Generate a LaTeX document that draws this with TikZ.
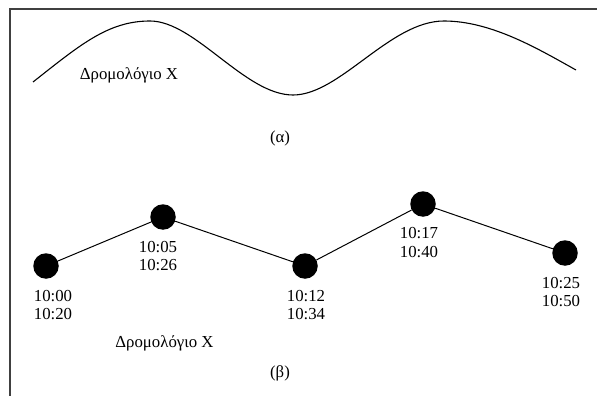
\documentclass[tikz,border=0pt]{standalone}
\usepackage{fontspec}
\setmainfont{Liberation Serif}
\begin{document}
\begin{tikzpicture}[x=1pt,y=-1pt,
  stop/.style={circle,fill=black,minimum size=25.5pt,inner sep=0pt},
  lbl/.style={align=center,font=\fontsize{16.8}{18.6}\selectfont,inner sep=0pt},
  conn/.style={line width=1pt},
  wave/.style={line width=1.1pt},
  frame/.style={draw=black!75,line width=1.2pt}]
\useasboundingbox (0,0) rectangle (597,396);
% frame
\coordinate (ftr) at (597,9);
\coordinate (ftl) at (10,9);
\coordinate (fbl) at (10,396);
\draw[frame] (ftr) -- (ftl) -- (fbl);
% (a) wave
\coordinate (w0) at (33,82);
\coordinate (w1) at (150,21);
\coordinate (w2) at (293,95);
\coordinate (w3) at (444,21);
\coordinate (w4) at (576,70);
\draw[wave] (w0) .. controls (80,45) and (108,21) .. (w1)
  .. controls (195,21) and (245,95) .. (w2)
  .. controls (340,95) and (390,21) .. (w3)
  .. controls (492,21) and (540,50) .. (w4);
\node[lbl] (ta) at (129,75) {Δρομολόγιο X};
\node[lbl] (alpha) at (280,138) {(α)};
% (b) stops
\node[stop] (s1) at (46,266) {};
\node[stop] (s2) at (163,217) {};
\node[stop] (s3) at (305,266) {};
\node[stop] (s4) at (423,204) {};
\node[stop] (s5) at (565,253) {};
\draw[conn] (s1) -- (s2) -- (s3) -- (s4) -- (s5);
\node[lbl] (l1) at (53,305) {10:00\\10:20};
\node[lbl] (l2) at (158,256) {10:05\\10:26};
\node[lbl] (l3) at (306,305) {10:12\\10:34};
\node[lbl] (l4) at (419,242.5) {10:17\\10:40};
\node[lbl] (l5) at (561,292) {10:25\\10:50};
\node[lbl] (tb) at (164.5,343) {Δρομολόγιο X};
\node[lbl] (beta) at (280,373) {(β)};
\end{tikzpicture}
\end{document}
